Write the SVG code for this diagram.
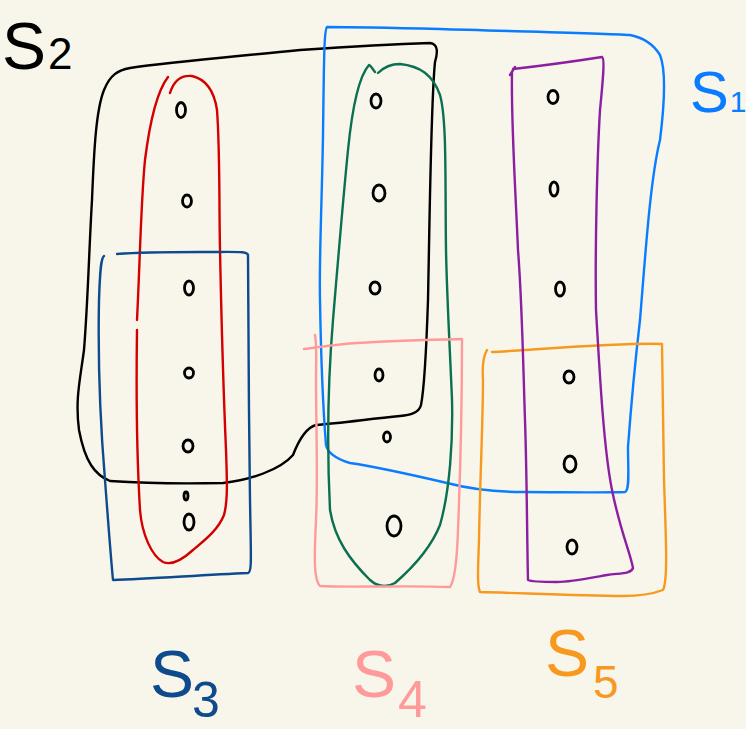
<svg xmlns="http://www.w3.org/2000/svg" width="746" height="729" viewBox="0 0 746 729">
<style>
.s{fill:none;stroke-width:2.4;stroke-linecap:round;stroke-linejoin:round}
.pt{fill:none;stroke:#000;stroke-width:2.8}
.lab{font-family:"Liberation Sans","DejaVu Sans",sans-serif;font-weight:normal}
</style>
<rect width="746" height="729" fill="#f8f6ea"/>
<g id="sets">
<g id="S2"><path class="s" stroke="#000" d="M130,68 C170,62 220,58 300,50 C360,46 400,44 430,43 C438,44 438,52 435,62 C431,100 430,200 428,300 C426,360 424,390 421,405 C419,413 410,415 400,416 C370,419 340,423 316,425 C305,428 298,442 293,455 C280,470 250,480 223,483 C180,484 140,483 110,481 C95,475 85,462 79,430 C75,400 80,380 84,350 C88,300 89,250 92,200 C94,150 96,110 104,90 C110,75 118,70 130,68 Z"/></g>
<g id="red"><path class="s" stroke="#d40000" d="M168,77 C158,90 150,120 145,160 C141,200 140,260 137,320 M137,330 C136,400 137,460 140,510 C142,535 152,556 163,562 C172,566 182,560 193,550 C205,540 218,530 224,515 C228,500 227,480 226,450 C223,380 221,300 220,250 C219,200 220,150 217,110 C214,90 205,79 192,76 C182,75 174,80 170,93"/></g>
<g id="S3"><path class="s" stroke="#0d4a8e" d="M104,256 C101,258 100,270 99,300 C98,350 100,420 105,480 C108,520 111,560 113,580 C150,579 200,575 248,573 C252,572 251,560 250,500 C249,420 248,320 248,255 C247,251 240,252 200,252 C170,252 130,253 117,254"/></g>
<g id="S1"><path class="s" stroke="#0a7cff" d="M327,27 C324,30 324,60 323,135 C322,200 319,260 320,300 C321,360 324,420 326,445 C328,455 340,460 350,463 C370,466 400,472 447,483 C470,489 500,492 523,492 C560,492 600,493 625,492 C630,490 628,470 628,447 C630,420 633,380 640,320 C645,260 650,180 660,140 C665,100 666,70 660,55 C652,42 640,37 630,35 C600,33 500,31 440,29 C400,28 350,27 327,27 Z"/></g>
<g id="green"><path class="s" stroke="#0a7050" d="M375,72 C372,68 370,65 369,65 C360,75 353,100 348,150 C343,200 338,260 333,320 C328,380 327,450 330,510 C335,540 350,560 370,580 C378,587 386,588 395,583 C410,570 430,550 440,525 C450,490 453,440 452,400 C450,350 447,300 446,250 C445,180 447,120 440,95 C433,75 420,66 400,64 C390,64 384,67 378,73"/></g>
<g id="S4"><path class="s" stroke="#ff9a9a" d="M304,349 C320,347 340,344 357,343 C390,341 420,340 462,339 C462,400 460,480 458,530 C457,560 455,580 450,587 C400,585 350,588 320,586 C314,580 314,560 316,520 C318,480 316,420 316,380 C316,360 317,345 315,335"/></g>
<g id="S5"><path class="s" stroke="#f7991f" d="M487,350 C484,355 482,365 483,380 C483,420 480,480 479,540 C478,570 477,585 480,592 C520,593 580,596 623,596 C640,596 655,593 663,590 C668,580 666,540 664,480 C663,420 662,370 662,344 C640,343 580,346 540,349 C510,351 498,352 492,352"/></g>
<g id="purple"><path class="s" stroke="#8b1fa0" d="M510,75 L515,67 M513,69 C540,66 570,62 602,57 C605,58 603,80 600,110 C597,160 595,250 596,310 C600,380 604,450 612,490 C620,530 630,552 633,568 C631,574 620,573 607,575 C590,578 570,582 557,582 C540,582 530,581 528,580 C527,540 527,480 525,420 C523,360 522,300 518,250 C515,180 511,120 512,72"/></g>
</g>
<g id="points">
<g id="c1"><ellipse class="pt" cx="181" cy="110" rx="4.5" ry="7.5"/><ellipse class="pt" cx="187" cy="201" rx="4.5" ry="6"/><ellipse class="pt" cx="189" cy="288" rx="4.5" ry="7"/><ellipse class="pt" cx="189" cy="373" rx="4.5" ry="5"/><ellipse class="pt" cx="188" cy="446" rx="5" ry="6"/><ellipse class="pt" cx="186" cy="496" rx="2" ry="4"/><ellipse class="pt" cx="189" cy="522" rx="5" ry="8"/></g>
<g id="c2"><ellipse class="pt" cx="376" cy="101" rx="5" ry="7"/><ellipse class="pt" cx="379" cy="193" rx="6" ry="8"/><ellipse class="pt" cx="375" cy="288" rx="5" ry="6"/><ellipse class="pt" cx="379" cy="375" rx="4" ry="6"/><ellipse class="pt" cx="387" cy="437" rx="3.5" ry="5"/><ellipse class="pt" cx="394" cy="526" rx="7" ry="10"/></g>
<g id="c3"><ellipse class="pt" cx="553" cy="97" rx="5" ry="6.5"/><ellipse class="pt" cx="554" cy="189" rx="4" ry="7"/><ellipse class="pt" cx="560" cy="289" rx="4.5" ry="7"/><ellipse class="pt" cx="569" cy="377" rx="5" ry="6"/><ellipse class="pt" cx="570" cy="464" rx="6" ry="8"/><ellipse class="pt" cx="572" cy="547" rx="5" ry="7"/></g>
</g>
<g id="labels">
<text class="lab" x="2" y="69" font-size="66" fill="#000">S<tspan font-size="44" dx="2">2</tspan></text>
<text class="lab" x="690" y="112" font-size="58" fill="#0a7cff">S<tspan font-size="30" dx="1">1</tspan></text>
<text class="lab" x="150" y="697" font-size="66" fill="#0d4a8e">S<tspan font-size="50" dx="-2" dy="20">3</tspan></text>
<text class="lab" x="352" y="697" font-size="66" fill="#ff9a9a">S<tspan font-size="52" dx="2" dy="20">4</tspan></text>
<text class="lab" x="545" y="676" font-size="66" fill="#f7991f">S<tspan font-size="46" dx="4" dy="22">5</tspan></text>
</g>
</svg>
